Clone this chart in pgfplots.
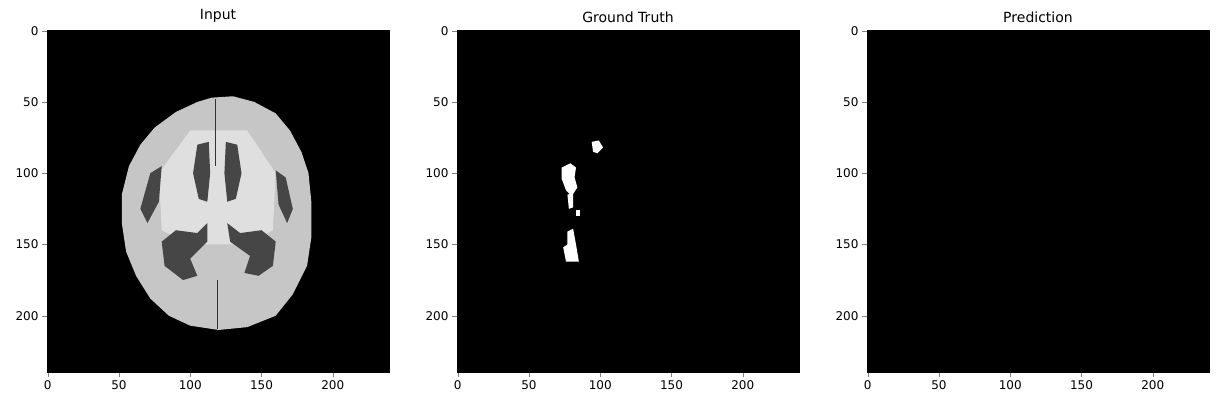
\documentclass[border=0pt]{standalone}
\usepackage{pgfplots}
\pgfplotsset{compat=1.18}
\usepackage{fontspec}
\setmainfont{DejaVu Sans}
\pgfplotsset{
  img/.style={scale only axis,width=342pt,height=342pt,
    xmin=-0.5,xmax=239.5,ymin=-0.5,ymax=239.5,y dir=reverse,
    xtick={0,50,100,150,200},ytick={0,50,100,150,200},
    tick align=outside,tick pos=left,major tick length=5pt,
    axis background/.style={fill=black},
    /pgf/number format/assume math mode=true,
    tick label style={font=\fontsize{12}{14}\selectfont},
    title style={font=\fontsize{14}{16}\selectfont,yshift=-2pt},
    anchor=south west}
}
\begin{document}
\begin{tikzpicture}
\path (0,0) rectangle (1222pt,407pt);
\begin{axis}[img,at={(47pt,35pt)},title={Input}]
\addplot[fill=gray!45!white,draw=none] coordinates {(115,47)(130,46)(145,50)(160,58)(170,70)(178,85)(183,100)(185,120)(185,145)(182,165)(172,185)(160,200)(140,208)(120,210)(100,207)(85,200)(72,188)(62,172)(55,155)(52,135)(52,115)(57,95)(65,80)(75,68)(90,57)(105,50)} --cycle;
\addplot[fill=gray!25!white,draw=none] coordinates {(100,70)(140,70)(160,100)(158,140)(140,150)(100,150)(80,140)(78,100)} --cycle;
\addplot[fill=gray!55!black,draw=none] coordinates {(105,80)(113,78)(114,100)(112,120)(106,118)(102,100)} --cycle;
\addplot[fill=gray!55!black,draw=none] coordinates {(125,78)(133,80)(136,100)(132,118)(126,120)(124,100)} --cycle;
\addplot[fill=gray!55!black,draw=none] coordinates {(112,135)(105,142)(90,140)(80,148)(82,165)(95,175)(105,172)(100,160)(112,148)} --cycle;
\addplot[fill=gray!55!black,draw=none] coordinates {(126,135)(135,142)(150,140)(160,148)(158,165)(148,172)(138,170)(142,158)(128,148)} --cycle;
\addplot[fill=gray!55!black,draw=none] coordinates {(72,100)(80,95)(78,120)(70,135)(65,125)} --cycle;
\addplot[fill=gray!55!black,draw=none] coordinates {(160,98)(167,103)(172,125)(168,135)(162,122)} --cycle;
\addplot[gray!40!black,line width=1.2pt] coordinates {(118,48)(118,95)};
\addplot[gray!40!black,line width=1.2pt] coordinates {(119,175)(119,209)};
\end{axis}
\begin{axis}[img,at={(457pt,35pt)},title={Ground Truth}]
\addplot[fill=white,draw=none] coordinates {(73,96)(79,93)(83,96)(82,103)(84,110)(80,116)(76,112)(73,104)} --cycle;
\addplot[fill=white,draw=none] coordinates {(77,115)(81,114)(81,124)(78,125)} --cycle;
\addplot[fill=white,draw=none] coordinates {(94,78)(99,77)(102,82)(98,86)(95,85)} --cycle;
\addplot[fill=white,draw=none] coordinates {(83,126)(86,126)(86,130)(83,130)} --cycle;
\addplot[fill=white,draw=none] coordinates {(77,141)(81,139)(83,150)(85,162)(76,162)(74,152)(77,150)} --cycle;
\end{axis}
\begin{axis}[img,at={(867pt,35pt)},title={Prediction}]
\addplot[draw=none] coordinates {(0,0)};
\end{axis}
\end{tikzpicture}
\end{document}
